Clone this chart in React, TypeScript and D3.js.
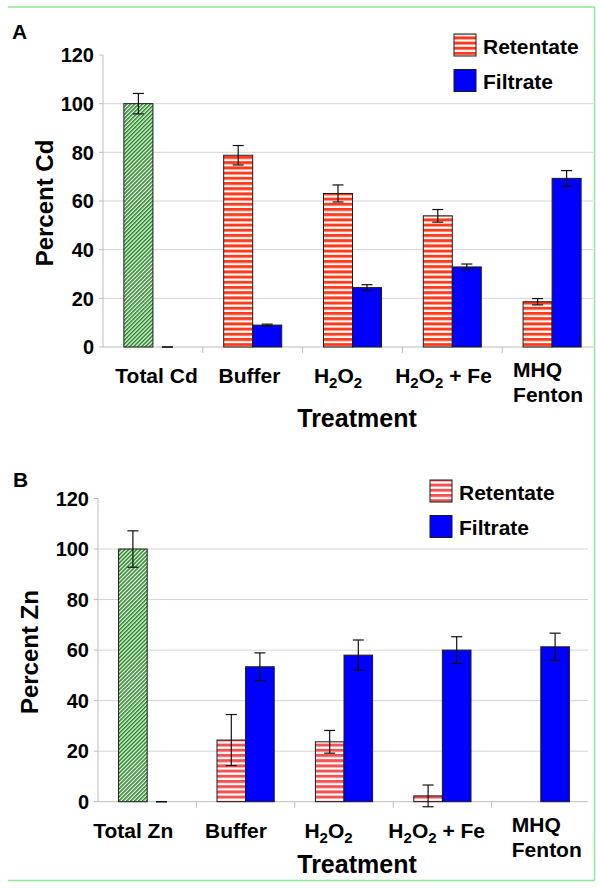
import React from "react";
import * as d3 from "d3";

// ---- data ----
const categoriesCd = ["Total Cd", "Buffer", "H2O2", "H2O2 + Fe", "MHQ\nFenton"];
const categoriesZn = ["Total Zn", "Buffer", "H2O2", "H2O2 + Fe", "MHQ\nFenton"];
const seriesNames = ["Retentate", "Filtrate"];
const retentateCd = [100, 78.8, 63.1, 53.9, 18.6];
const retentateCdErr = [4.2, 4.0, 3.5, 2.6, 1.3];
const filtrateCd = [0, 9.0, 24.4, 32.9, 69.3];
const filtrateCdErr = [0, 0.4, 1.2, 1.2, 3.2];
const retentateZn: (number | null)[] = [100, 24.4, 23.7, 2.3, null];
const retentateZnErr: (number | null)[] = [7.2, 10.1, 4.5, 4.3, null];
const filtrateZn = [0, 53.4, 58.0, 60.0, 61.3];
const filtrateZnErr = [0, 5.5, 6.0, 5.3, 5.4];
const yTicks = [0, 20, 40, 60, 80, 100, 120];

const FONT = "'Liberation Sans', Arial, Helvetica, sans-serif";

type PanelCfg = {
  id: string;
  letter: string;
  yLabel: string;
  cats: string[];
  ret: (number | null)[];
  retErr: (number | null)[];
  fil: (number | null)[];
  filErr: (number | null)[];
  xRange: [number, number];
  yRange: [number, number];
  gridRight: number;
  tickEnd: number;
  yLabelX: number;
  letterPos: [number, number];
  catBaseline: number;
  multiBaseline: number;
  labelDx: number[];
  treatmentY: number;
  legendX: number;
  legendY: number;
  stripe: string;
};

const panels: PanelCfg[] = [
  {
    id: "A", letter: "A", yLabel: "Percent Cd", cats: categoriesCd,
    ret: retentateCd, retErr: retentateCdErr, fil: filtrateCd, filErr: filtrateCdErr,
    xRange: [103, 602], yRange: [347, 55], gridRight: 593, tickEnd: 94, yLabelX: 53,
    letterPos: [12, 39], catBaseline: 383, multiBaseline: 377,
    labelDx: [3.6, -3.2, -14.5, -8.8, -39], treatmentY: 427,
    legendX: 454, legendY: 34, stripe: "#ff3b1c",
  },
  {
    id: "B", letter: "B", yLabel: "Percent Zn", cats: categoriesZn,
    ret: retentateZn, retErr: retentateZnErr, fil: filtrateZn, filErr: filtrateZnErr,
    xRange: [98, 590], yRange: [801.7, 498.5], gridRight: 588, tickEnd: 89, yLabelX: 38,
    letterPos: [13, 487], catBaseline: 838, multiBaseline: 832,
    labelDx: [-14, -9.6, -15.5, -5.7, -29], treatmentY: 873,
    legendX: 430, legendY: 480, stripe: "#f25252",
  },
];

function renderLabel(label: string) {
  const parts = label.split(/(\d)/).filter((p) => p.length > 0);
  const out: React.ReactNode[] = [];
  let shifted = false;
  parts.forEach((p, i) => {
    if (/^\d$/.test(p)) {
      out.push(<tspan key={i} fontSize={15} dy={shifted ? 0 : 5}>{p}</tspan>);
      shifted = true;
    } else {
      out.push(<tspan key={i} dy={shifted ? -5 : 0}>{p}</tspan>);
      shifted = false;
    }
  });
  return out;
}

function Panel({ c }: { c: PanelCfg }) {
  const x0 = d3.scaleBand<string>().domain(c.cats).range(c.xRange).padding(0);
  const x1 = d3.scaleBand<string>().domain(seriesNames).range([0, x0.bandwidth()]).paddingInner(0).paddingOuter(0.72);
  const y = d3.scaleLinear().domain([0, 120]).range(c.yRange);
  const bw = x1.bandwidth();
  const capW = 11;
  const retFill = `url(#stripe${c.id})`;

  const bars: React.ReactNode[] = [];
  const errs: React.ReactNode[] = [];
  c.cats.forEach((cat, i) => {
    const series = [
      { name: "Retentate", v: c.ret[i], e: c.retErr[i], fill: i === 0 ? "url(#hatchGreen)" : retFill },
      { name: "Filtrate", v: c.fil[i], e: c.filErr[i], fill: "#0000ff" },
    ];
    series.forEach((s) => {
      if (s.v === null || s.v === undefined) return;
      const bx = (x0(cat) as number) + (x1(s.name) as number);
      if (s.v > 0) {
        bars.push(
          <rect key={`b${i}${s.name}`} x={bx} y={y(s.v)} width={bw} height={y(0) - y(s.v)}
            fill={s.fill} stroke="#1a1a1a" strokeWidth={1} />
        );
      }
      if (s.e !== null && s.e !== undefined) {
        const cx = bx + bw / 2;
        const yt = y(s.v + s.e);
        const yb = y(s.v - s.e);
        errs.push(
          <g key={`e${i}${s.name}`} stroke="#111" strokeWidth={1.2}>
            <line x1={cx} x2={cx} y1={yt} y2={yb} />
            <line x1={cx - capW / 2} x2={cx + capW / 2} y1={yt} y2={yt} />
            <line x1={cx - capW / 2} x2={cx + capW / 2} y1={yb} y2={yb} />
          </g>
        );
      }
    });
  });

  const axisX = c.xRange[0];
  const boundaries = c.cats.map((cat) => x0(cat) as number);

  return (
    <g>
      <text x={c.letterPos[0]} y={c.letterPos[1]} fontFamily={FONT} fontWeight="bold" fontSize={21}>{c.letter}</text>
      {yTicks.filter((t) => t > 0 && t < 120).map((t) => (
        <line key={`g${t}`} x1={axisX} x2={c.gridRight} y1={y(t)} y2={y(t)} stroke="#d4d4d4" strokeWidth={1} />
      ))}
      <line x1={axisX} x2={axisX} y1={y(120)} y2={y(0)} stroke="#bdbdbd" strokeWidth={1} />
      {yTicks.map((t) => (
        <g key={`t${t}`}>
          <line x1={axisX - 4} x2={axisX} y1={y(t)} y2={y(t)} stroke="#bdbdbd" />
          <text x={c.tickEnd} y={y(t)} dy="0.36em" textAnchor="end" fontFamily={FONT} fontWeight="bold" fontSize={20}>{t}</text>
        </g>
      ))}
      <line x1={axisX} x2={c.gridRight} y1={y(0)} y2={y(0)} stroke="#bdbdbd" strokeWidth={1} />
      {boundaries.slice(1).map((bx, i) => (
        <line key={`xt${i}`} x1={bx} x2={bx} y1={y(0)} y2={y(0) + 6} stroke="#bdbdbd" />
      ))}
      {bars}
      {errs}
      {c.cats.map((cat, i) => {
        const cx = (x0(cat) as number) + x0.bandwidth() / 2 + c.labelDx[i];
        if (cat.includes("\n")) {
          const lines = cat.split("\n");
          return (
            <text key={`l${i}`} fontFamily={FONT} fontWeight="bold" fontSize={21} textAnchor="start">
              {lines.map((ln, j) => (
                <tspan key={j} x={cx} y={c.multiBaseline + j * 25}>{ln}</tspan>
              ))}
            </text>
          );
        }
        return (
          <text key={`l${i}`} x={cx} y={c.catBaseline} fontFamily={FONT} fontWeight="bold" fontSize={21} textAnchor="middle">
            {renderLabel(cat)}
          </text>
        );
      })}
      <text x={357} y={c.treatmentY} textAnchor="middle" fontFamily={FONT} fontWeight="bold" fontSize={25}>Treatment</text>
      <text transform={`translate(${c.yLabelX},${(y(0) + y(120)) / 2 + 2}) rotate(-90)`} textAnchor="middle"
        fontFamily={FONT} fontWeight="bold" fontSize={24}>{c.yLabel}</text>
      {seriesNames.map((s, i) => (
        <g key={`lg${s}`}>
          <rect x={c.legendX} y={c.legendY + i * 35.5} width={22} height={22}
            fill={s === "Retentate" ? retFill : "#0000ff"} stroke="#1a1a1a" strokeWidth={1} />
          <text x={c.legendX + 29} y={c.legendY + i * 35.5 + 19.5} fontFamily={FONT} fontWeight="bold" fontSize={21}>{s}</text>
        </g>
      ))}
    </g>
  );
}

export default function App() {
  return (
    <div style={{ position: "absolute", left: 0, top: 0, width: 600, height: 889, background: "#fff" }}>
      <svg width={600} height={889} viewBox="0 0 600 889" style={{ display: "block" }}>
        <defs>
          <pattern id="hatchGreen" patternUnits="userSpaceOnUse" width={2.8} height={2.8} patternTransform="rotate(45)">
            <rect width={2.8} height={2.8} fill="#ffffff" />
            <rect x={0} y={0} width={1.6} height={2.8} fill="#248a24" />
          </pattern>
          {panels.map((p) => (
            <pattern key={p.id} id={`stripe${p.id}`} patternUnits="userSpaceOnUse" width={6} height={5.2}>
              <rect width={6} height={5.2} fill="#ffffff" />
              <rect x={0} y={0} width={6} height={3} fill={p.stripe} />
            </pattern>
          ))}
        </defs>
        <rect x={0} y={0} width={600} height={889} fill="#fff" />
        {panels.map((p) => <Panel key={p.id} c={p} />)}
        <g stroke="#8fe88f" strokeWidth={1.5} fill="none">
          <line x1={8} x2={594.5} y1={7} y2={7} />
          <line x1={594.5} x2={594.5} y1={7} y2={880.5} />
          <line x1={8} x2={594.5} y1={880.5} y2={880.5} />
        </g>
      </svg>
    </div>
  );
}
